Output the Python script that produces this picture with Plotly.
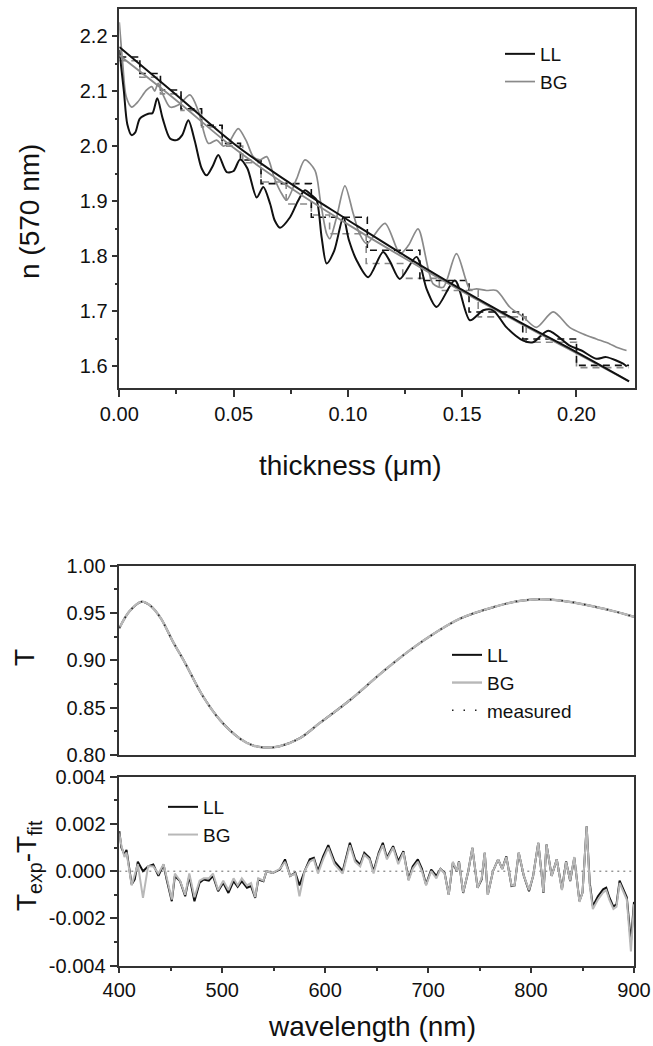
import plotly.graph_objects as go

# ---------------- top panel: n(570 nm) vs thickness ----------------
ll_x = [0, 0.002, 0.0035, 0.0054, 0.007, 0.009, 0.0127, 0.0145, 0.0166, 0.019, 0.0222, 0.0251, 0.0275,
        0.0302, 0.033, 0.036, 0.0382, 0.041, 0.0433, 0.047, 0.050, 0.0528, 0.056, 0.0601, 0.063, 0.066,
        0.068, 0.0703, 0.0747, 0.0781, 0.0812, 0.0841, 0.0863, 0.0885, 0.0907, 0.094, 0.098, 0.1004,
        0.1038, 0.1089, 0.1154, 0.1185, 0.1227, 0.130, 0.1345, 0.1388, 0.1468, 0.1534, 0.1592, 0.1635,
        0.1694, 0.1767, 0.181, 0.1876, 0.197, 0.2022, 0.2087, 0.213, 0.2204, 0.222]
ll_n = [2.175, 2.10, 2.04, 2.020, 2.025, 2.050, 2.059, 2.060, 2.087, 2.050, 2.014, 2.011, 2.020,
        2.047, 2.010, 1.960, 1.947, 1.965, 1.984, 1.953, 1.955, 1.976, 1.960, 1.907, 1.926, 1.895,
        1.865, 1.852, 1.871, 1.900, 1.920, 1.911, 1.902, 1.835, 1.787, 1.810, 1.871, 1.830,
        1.793, 1.762, 1.808, 1.790, 1.759, 1.799, 1.740, 1.708, 1.756, 1.684, 1.702, 1.702,
        1.671, 1.647, 1.644, 1.665, 1.638, 1.629, 1.614, 1.617, 1.605, 1.600]

bg_x = [0, 0.0015, 0.003, 0.0054, 0.008, 0.012, 0.0142, 0.0155, 0.017, 0.0195, 0.0222, 0.026, 0.0309,
        0.0345, 0.039, 0.0426, 0.0455, 0.0477, 0.052, 0.0555, 0.0586, 0.0615, 0.0645, 0.068, 0.071,
        0.0732, 0.0775, 0.0812, 0.0856, 0.088, 0.0907, 0.0921, 0.095, 0.0987, 0.1023, 0.1052, 0.1082,
        0.1162, 0.1228, 0.1265, 0.1307, 0.1373, 0.1417, 0.1475, 0.1534, 0.1563, 0.1606, 0.165, 0.1708,
        0.1767, 0.1825, 0.1898, 0.197, 0.2029, 0.2087, 0.2146, 0.2175, 0.2219]
bg_n = [2.225, 2.15, 2.09, 2.071, 2.080, 2.102, 2.108, 2.100, 2.114, 2.090, 2.071, 2.075, 2.093,
        2.065, 2.005, 2.011, 2.000, 2.005, 2.032, 2.010, 1.981, 1.975, 1.981, 1.940, 1.914,
        1.902, 1.940, 1.975, 1.956, 1.900, 1.841, 1.832, 1.870, 1.928, 1.878, 1.840, 1.823,
        1.860, 1.805, 1.820, 1.850, 1.750, 1.744, 1.805, 1.740, 1.741, 1.738, 1.738, 1.708,
        1.690, 1.671, 1.699, 1.671, 1.659, 1.650, 1.641, 1.635, 1.629]

smooth_x = [0, 0.025, 0.05, 0.075, 0.1, 0.125, 0.15, 0.175, 0.2, 0.223]
ll_smooth = [2.180, 2.093, 2.005, 1.932, 1.866, 1.801, 1.739, 1.681, 1.626, 1.573]
bg_smooth = [2.165, 2.083, 1.997, 1.924, 1.858, 1.796, 1.736, 1.679, 1.624, 1.573]

ll_step_x = [0, 0.009, 0.018, 0.027, 0.036, 0.045, 0.053, 0.062, 0.084, 0.1085, 0.1315, 0.153, 0.1765, 0.200, 0.223]
ll_step_n = [2.162, 2.132, 2.102, 2.068, 2.038, 2.005, 1.975, 1.932, 1.871, 1.811, 1.756, 1.699, 1.650, 1.602]
bg_step_x = [0, 0.009, 0.018, 0.027, 0.036, 0.045, 0.054, 0.062, 0.073, 0.084, 0.092, 0.108, 0.124, 0.140,
             0.157, 0.178, 0.200, 0.223]
bg_step_n = [2.155, 2.125, 2.095, 2.065, 2.035, 2.000, 1.970, 1.935, 1.895, 1.875, 1.841, 1.787, 1.760,
             1.738, 1.690, 1.644, 1.598]

# ---------------- middle panel: transmittance ----------------
wl_t = [400, 410, 421.7, 430, 440, 452, 464, 481.6, 497.8, 517, 530, 540, 555, 575, 595, 624, 656, 689,
        731, 766, 790, 808, 830, 854, 880, 900]
t_fit = [0.934, 0.952, 0.962, 0.958, 0.945, 0.920, 0.897, 0.8615, 0.837, 0.8175, 0.810, 0.808, 0.809,
         0.8175, 0.834, 0.858, 0.888, 0.916, 0.944, 0.957, 0.963, 0.9645, 0.963, 0.9585, 0.952, 0.946]
t_meas = t_fit

# ---------------- bottom panel: residuals ----------------
wl_r = [400, 402, 405, 407, 412, 415, 418, 423, 428, 433, 438, 443, 446, 451, 454, 459, 464, 468, 473,
        478, 482, 487, 491, 496, 501, 506, 511, 515, 519, 524, 528, 532, 535, 540, 543, 549, 556, 561,
        566, 571, 575, 580, 585, 589, 593, 598, 603, 609, 617, 624, 629, 634, 638, 643, 647, 652, 656,
        660, 666, 671, 676, 681, 685, 690, 694, 698, 703, 708, 712, 716, 720, 724, 728, 730, 734, 739,
        743, 748, 752, 755, 758, 763, 768, 772, 776, 781, 784, 788, 793, 798, 802, 807, 810, 812, 815,
        820, 825, 830, 834, 838, 842, 847, 850, 854, 857, 860, 865, 870, 873, 876, 880, 883, 886, 889,
        893, 897, 900]
res_ll = [0.0017, 0.0010, 0.0007, 0.0009, -0.00056, -0.00035, 0.0004, 0.0, 0.0002, 0.00028, -0.0002,
          0.00028, -0.00035, -0.00127, -0.0002, -0.00042, -0.00106, -0.0002, -0.00127, -0.00049,
          -0.00035, -0.0004, -0.0002, -0.00085, -0.00049, -0.00092, -0.00042, -0.00066, -0.00042,
          -0.0007, -0.00063, -0.00113, -0.00035, -0.00042, 0.0, -0.00007, 0.00007, 0.0005, -0.0002,
          -0.00007, -0.0006, 0.0, 0.0005, 0.00057, 0.0, 0.00063, 0.0011, 0.00042, 0.0, 0.0012, 0.0005,
          0.00028, 0.00078, 0.00057, 0.0, 0.00078, 0.0012, 0.00057, 0.00106, 0.00042, 0.00085, -0.00035,
          0.0002, 0.0005, 0.0001, -0.00056, 0.00007, -0.0002, 0.0001, -0.00007, -0.00099, 0.00035, 0.0,
          0.00042, -0.00092, 0.0, 0.00099, -0.0007, -0.00035, 0.00078, -0.00099, 0.0, 0.0005, 0.0001,
          0.00063, -0.00063, -0.0006, 0.00078, -0.0002, -0.00085, -0.0002, 0.0012, 0.0, -0.00092,
          0.00113, -0.0002, 0.0005, -0.00077, 0.00042, -0.00042, 0.00057, -0.00127, -0.0009, 0.0019,
          -0.00049, -0.00148, -0.00106, -0.00077, -0.0007, -0.0011, -0.0015, -0.0014, -0.0004,
          -0.0007, -0.0011, -0.0030, -0.0013]
res_bg = [0.0016, 0.0011, 0.0006, 0.0008, -0.0006, -0.0002, 0.0003, -0.00113, 0.00022, 0.0002, -0.0001,
          0.0003, -0.0003, -0.0012, -0.0001, -0.0004, -0.0010, -0.0001, -0.0011, -0.0004,
          -0.0003, -0.0003, -0.0001, -0.0008, -0.0004, -0.0008, -0.0003, -0.0006, -0.0003,
          -0.0006, -0.0005, -0.0011, -0.0003, -0.0004, 0.0, -0.00007, 0.0001, 0.0004, -0.0002,
          -0.0001, -0.00106, 0.0, 0.0004, 0.0005, -0.0001, 0.0005, 0.0010, 0.0003, -0.0001, 0.0011, 0.0004,
          0.0002, 0.0007, 0.0005, -0.0001, 0.0007, 0.0011, 0.0005, 0.0010, 0.0003, 0.0008, -0.0004,
          0.0001, 0.0004, 0.0, -0.0006, 0.0, -0.0003, 0.0001, -0.0001, -0.0010, 0.0004, 0.0,
          0.0004, -0.0009, 0.0, 0.0010, -0.0007, -0.0003, 0.0008, -0.0010, 0.0, 0.0005, 0.0001,
          0.0006, -0.0006, -0.0006, 0.0008, -0.0002, -0.0008, -0.0002, 0.0012, 0.0, -0.0009,
          0.00113, -0.0002, 0.0005, -0.0008, 0.0004, -0.0004, 0.0006, -0.0013, -0.0009, 0.0019,
          -0.0006, -0.0016, -0.0012, -0.0009, -0.0008, -0.0012, -0.0016, -0.0015, -0.0005,
          -0.0008, -0.0012, -0.0034, -0.0014]

BLACK = "#111111"
GRAY_TOP = "#8a8a8a"
GRAY_BOT = "#b8b8b8"
AXC = "#333333"
FONT = "Liberation Sans, Arial, sans-serif"

fig = go.Figure()

# top panel traces
fig.add_trace(go.Scatter(x=bg_step_x, y=bg_step_n + [bg_step_n[-1]], mode="lines", line=dict(color=GRAY_TOP, width=1.6, dash="7px,5px", shape="hv"), showlegend=False, xaxis="x", yaxis="y"))
fig.add_trace(go.Scatter(x=ll_step_x, y=ll_step_n + [ll_step_n[-1]], mode="lines", line=dict(color=BLACK, width=1.6, dash="7px,5px", shape="hv"), showlegend=False, xaxis="x", yaxis="y"))
fig.add_trace(go.Scatter(x=bg_x, y=bg_n, mode="lines", name="BG", line=dict(color=GRAY_TOP, width=1.7, shape="spline", smoothing=0.8), legend="legend", legendrank=2, xaxis="x", yaxis="y"))
fig.add_trace(go.Scatter(x=ll_x, y=ll_n, mode="lines", name="LL", line=dict(color=BLACK, width=2, shape="spline", smoothing=0.8), legend="legend", legendrank=1, xaxis="x", yaxis="y"))
fig.add_trace(go.Scatter(x=smooth_x, y=bg_smooth, mode="lines", line=dict(color=GRAY_TOP, width=1.8, shape="spline"), showlegend=False, xaxis="x", yaxis="y"))
fig.add_trace(go.Scatter(x=smooth_x, y=ll_smooth, mode="lines", line=dict(color=BLACK, width=2, shape="spline"), showlegend=False, xaxis="x", yaxis="y"))

# middle panel
fig.add_trace(go.Scatter(x=wl_t, y=t_fit, mode="lines", name="LL", line=dict(color=BLACK, width=2, shape="spline"), legend="legend2", legendrank=1, xaxis="x2", yaxis="y2"))
fig.add_trace(go.Scatter(x=wl_t, y=t_fit, mode="lines", name="BG", line=dict(color=GRAY_BOT, width=2.4, shape="spline"), legend="legend2", legendrank=2, xaxis="x2", yaxis="y2"))
fig.add_trace(go.Scatter(x=wl_t, y=t_meas, mode="lines", name="measured", line=dict(color="#222222", width=1.5, dash="1.5px,10px", shape="spline"), legend="legend2", legendrank=3, xaxis="x2", yaxis="y2"))

# bottom panel
fig.add_trace(go.Scatter(x=[400, 900], y=[0, 0], mode="lines", line=dict(color="#666666", width=1, dash="2px,4px"), showlegend=False, xaxis="x3", yaxis="y3"))
fig.add_trace(go.Scatter(x=wl_r, y=res_ll, mode="lines", name="LL", line=dict(color=BLACK, width=2), legend="legend3", legendrank=1, xaxis="x3", yaxis="y3"))
fig.add_trace(go.Scatter(x=wl_r, y=res_bg, mode="lines", name="BG", line=dict(color=GRAY_BOT, width=2), legend="legend3", legendrank=2, xaxis="x3", yaxis="y3"))

W, H = 653, 1046
def px_x(p):
    return p / W
def px_y(p):
    return 1 - p / H

tickfont = dict(family=FONT, size=20, color="#111111")
common = dict(showline=True, linecolor=AXC, linewidth=1.5, mirror=True, showgrid=False, zeroline=False,
              tickfont=tickfont, tickcolor=AXC, tickwidth=1.5, automargin=False)

xdom = [px_x(119.3), px_x(635)]
xdom2 = [px_x(119.3), px_x(634)]
legfont = dict(family=FONT, size=19, color="#111111")

fig.update_layout(
    width=W, height=H, margin=dict(l=0, r=0, t=0, b=0, autoexpand=False),
    paper_bgcolor="white", plot_bgcolor="white",
    font=dict(family=FONT, color="#111111"),
    xaxis=dict(domain=xdom, anchor="y", range=[0, 0.2256], tickvals=[0, 0.05, 0.10, 0.15, 0.20],
               ticktext=["0.00", "0.05", "0.10", "0.15", "0.20"], ticks="outside", ticklen=8,
               minor=dict(tickvals=[0.025, 0.075, 0.125, 0.175], ticks="outside", ticklen=5, tickcolor=AXC, tickwidth=1.5), **common),
    yaxis=dict(domain=[px_y(387.7), px_y(9.3)], anchor="x", range=[1.5615, 2.2485],
               tickvals=[1.6, 1.7, 1.8, 1.9, 2.0, 2.1, 2.2], ticktext=["1.6", "1.7", "1.8", "1.9", "2.0", "2.1", "2.2"],
               ticks="outside", ticklen=6,
               minor=dict(tickvals=[1.65, 1.75, 1.85, 1.95, 2.05, 2.15], ticks="outside", ticklen=3, tickcolor=AXC, tickwidth=1.5), **common),
    xaxis2=dict(domain=xdom2, anchor="y2", range=[400, 900], showticklabels=False, ticks="", **common),
    yaxis2=dict(domain=[px_y(755), px_y(565.7)], anchor="x2", range=[0.80, 1.00],
                tickvals=[0.80, 0.85, 0.90, 0.95, 1.00], ticktext=["0.80", "0.85", "0.90", "0.95", "1.00"],
                ticks="outside", ticklen=8,
                minor=dict(tickvals=[0.825, 0.875, 0.925, 0.975], ticks="outside", ticklen=4, tickcolor=AXC, tickwidth=1.5), **common),
    xaxis3=dict(domain=xdom2, anchor="y3", range=[400, 900], tickvals=[400, 500, 600, 700, 800, 900],
                ticktext=["400", "500", "600", "700", "800", "900"], ticks="outside", ticklen=6,
                minor=dict(tickvals=[450, 550, 650, 750, 850], ticks="outside", ticklen=4, tickcolor=AXC, tickwidth=1.5), **common),
    yaxis3=dict(domain=[px_y(965.7), px_y(776.7)], anchor="x3", range=[-0.004, 0.004],
                tickvals=[-0.004, -0.002, 0, 0.002, 0.004], ticktext=["-0.004", "-0.002", "0.000", "0.002", "0.004"],
                ticks="outside", ticklen=8,
                minor=dict(tickvals=[-0.003, -0.001, 0.001, 0.003], ticks="outside", ticklen=4, tickcolor=AXC, tickwidth=1.5), **common),
    legend=dict(x=px_x(500), y=px_y(35), xanchor="left", yanchor="top", bgcolor="rgba(0,0,0,0)",
                font=legfont, tracegroupgap=0),
    legend2=dict(x=px_x(447), y=px_y(636), xanchor="left", yanchor="top", bgcolor="rgba(0,0,0,0)",
                 font=legfont, tracegroupgap=0),
    legend3=dict(x=px_x(163), y=px_y(788), xanchor="left", yanchor="top", bgcolor="rgba(0,0,0,0)",
                 font=legfont, tracegroupgap=0),
)

title_font = dict(family=FONT, size=28, color="#111111")
fig.add_annotation(text="n (570 nm)", x=px_x(30), y=px_y(212), xref="paper", yref="paper", textangle=-90,
                   showarrow=False, font=title_font, xanchor="center", yanchor="middle")
fig.add_annotation(text="thickness (\u03bcm)", x=px_x(350), y=px_y(465), xref="paper", yref="paper",
                   showarrow=False, font=title_font, xanchor="center", yanchor="middle")
fig.add_annotation(text="T", x=px_x(24), y=px_y(658), xref="paper", yref="paper", textangle=-90,
                   showarrow=False, font=title_font, xanchor="center", yanchor="middle")
fig.add_annotation(text="T<sub>exp</sub>-T<sub>fit</sub>", x=px_x(28), y=px_y(866), xref="paper", yref="paper",
                   textangle=-90, showarrow=False, font=title_font, xanchor="center", yanchor="middle")
fig.add_annotation(text="wavelength (nm)", x=px_x(372), y=px_y(1026), xref="paper", yref="paper",
                   showarrow=False, font=title_font, xanchor="center", yanchor="middle")

fig.write_html("out.html", config={"displayModeBar": False},
               post_script="document.body.style.margin='0px'; document.body.style.padding='0px';")
